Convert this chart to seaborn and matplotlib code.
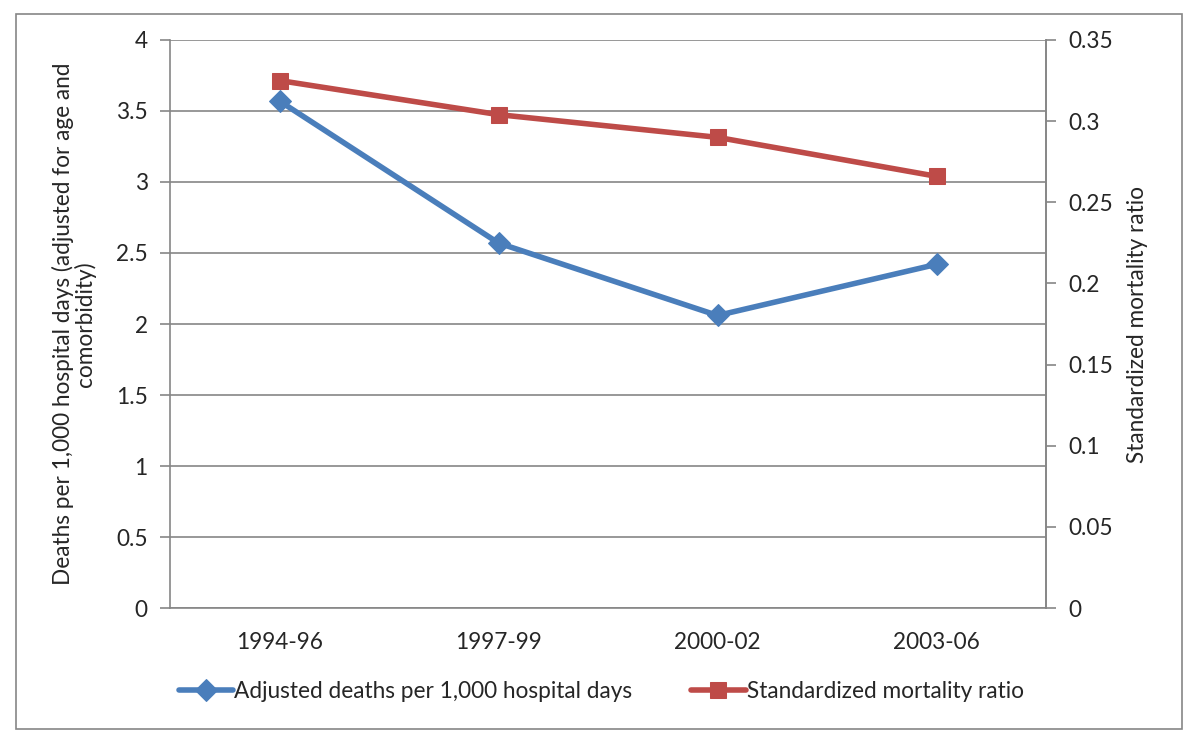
import pandas as pd
import matplotlib.pyplot as plt
import seaborn as sns
from matplotlib.patches import Rectangle

sns.set_style('white')
plt.rcParams['font.family'] = ['Lato', 'DejaVu Sans']

periods = ['1994-96', '1997-99', '2000-02', '2003-06']
adjusted_deaths = [3.57, 2.57, 2.06, 2.42]
smr = [0.325, 0.304, 0.290, 0.266]

df = pd.DataFrame({'pos': range(len(periods)), 'period': periods,
                   'deaths': adjusted_deaths, 'smr': smr})

blue = '#4a7ebb'
red = '#be4b48'
grey = '#868686'
fs = 16.3

fig = plt.figure(figsize=(12, 7.47), dpi=100)
# outer chart frame
fig.patches.append(Rectangle((0.0133, 0.0241), 0.9717, 0.957, transform=fig.transFigure,
                             fill=False, edgecolor=grey, linewidth=1.2))
ax = fig.add_axes([0.1417, 0.186, 0.73, 0.7605])
ax2 = ax.twinx()

sns.lineplot(data=df, x='pos', y='deaths', ax=ax, color=blue, linewidth=4,
             marker='D', markersize=11, markeredgecolor=blue,
             label='Adjusted deaths per 1,000 hospital days', legend=False)
sns.lineplot(data=df, x='pos', y='smr', ax=ax2, color=red, linewidth=4,
             marker='s', markersize=12, markeredgecolor=red,
             label='Standardized mortality ratio', legend=False)

ax.set_xlim(-0.5, len(periods) - 0.5)
ax.set_ylim(0, 4)
ax2.set_ylim(0, 0.35)
ax.set_yticks([i * 0.5 for i in range(9)])
ax.set_yticklabels(['0', '0.5', '1', '1.5', '2', '2.5', '3', '3.5', '4'])
ax2.set_yticks([i * 0.05 for i in range(8)])
ax2.set_yticklabels(['0', '0.05', '0.1', '0.15', '0.2', '0.25', '0.3', '0.35'])

ax.set_xticks(df['pos'])
ax.set_xticklabels(periods)
ax.set_xticks([i - 0.5 for i in range(len(periods) + 1)], minor=True)
ax.tick_params(axis='x', which='major', length=0, pad=17, labelsize=fs)
ax.tick_params(axis='x', which='minor', length=7, color=grey, width=1.2)
ax.tick_params(axis='y', length=7, color=grey, width=1.2, labelsize=fs, pad=9, left=True)
ax2.tick_params(axis='y', length=7, color=grey, width=1.2, labelsize=fs, pad=9, right=True)

ax.yaxis.grid(True, color=grey, linewidth=1.2)
ax.set_axisbelow(True)
for a in (ax, ax2):
    a.spines['top'].set_visible(False)
    for s in ('left', 'bottom', 'right'):
        a.spines[s].set_color(grey)
        a.spines[s].set_linewidth(1.2)
ax2.spines['left'].set_visible(False)
ax2.spines['bottom'].set_visible(False)

ax.set_xlabel('')
ax.set_ylabel('Deaths per 1,000 hospital days (adjusted for age and\ncomorbidity)',
              fontsize=fs, labelpad=14, linespacing=1.0)
ax2.set_ylabel('Standardized mortality ratio', fontsize=fs, labelpad=10)

h1, l1 = ax.get_legend_handles_labels()
h2, l2 = ax2.get_legend_handles_labels()
fig.legend(h1 + h2, l1 + l2, loc='center', bbox_to_anchor=(0.501, 0.074), ncol=2,
           frameon=False, fontsize=fs, handlelength=2.4, handletextpad=0.05,
           columnspacing=2.6)

fig.savefig('out.png', dpi=100)
